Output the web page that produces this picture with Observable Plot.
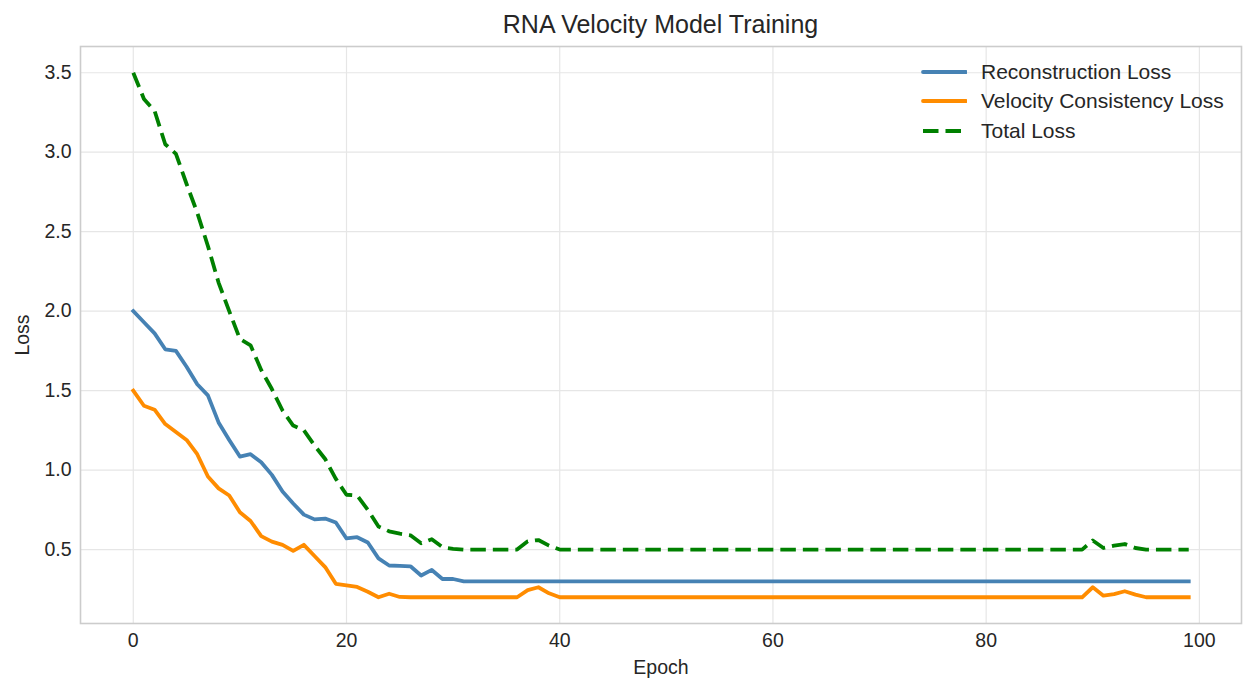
<!DOCTYPE html>
<html>
<head>
<meta charset="utf-8">
<script src="https://cdn.jsdelivr.net/npm/d3@7"></script>
<script src="https://cdn.jsdelivr.net/npm/@observablehq/plot@0.6"></script>
<style>
  html, body { margin: 0; padding: 0; background: #ffffff; }
  #wrap { position: relative; width: 1256px; height: 692px; font-family: "Liberation Sans", Arial, sans-serif; color: #262626; }
  #title { position: absolute; left: 80px; width: 1161px; top: 12px; text-align: center; font-size: 25px; line-height: 1; }
  #chart { position: absolute; left: 0; top: 40px; }
  #legend { position: absolute; left: 921px; top: 57px; }
  .row { display: flex; align-items: center; height: 29.5px; font-size: 21px; }
  .row svg { margin-right: 14px; }
</style>
</head>
<body>
<div id="wrap">
  <div id="title">RNA Velocity Model Training</div>
  <div id="chart"></div>
  <div id="legend"></div>
</div>
<script>
const seriesNames = ["Reconstruction Loss", "Velocity Consistency Loss", "Total Loss"];
const seriesColors = ["#4682b4", "#ff8c00", "#008000"];
const epochs = d3.range(0, 100);

const reconstruction = [
  2.00, 1.93, 1.86, 1.76, 1.75, 1.65, 1.54, 1.47, 1.30, 1.19,
  1.085, 1.10, 1.05, 0.97, 0.865, 0.79, 0.72, 0.69, 0.695, 0.67,
  0.57, 0.578, 0.545, 0.445, 0.40, 0.398, 0.395, 0.337, 0.372, 0.315,
  0.315, 0.30, 0.30, 0.30, 0.30, 0.30, 0.30, 0.30, 0.30, 0.30,
  0.30, 0.30, 0.30, 0.30, 0.30, 0.30, 0.30, 0.30, 0.30, 0.30,
  0.30, 0.30, 0.30, 0.30, 0.30, 0.30, 0.30, 0.30, 0.30, 0.30,
  0.30, 0.30, 0.30, 0.30, 0.30, 0.30, 0.30, 0.30, 0.30, 0.30,
  0.30, 0.30, 0.30, 0.30, 0.30, 0.30, 0.30, 0.30, 0.30, 0.30,
  0.30, 0.30, 0.30, 0.30, 0.30, 0.30, 0.30, 0.30, 0.30, 0.30,
  0.30, 0.30, 0.30, 0.30, 0.30, 0.30, 0.30, 0.30, 0.30, 0.30
];

const velocity = [
  1.50, 1.405, 1.38, 1.29, 1.24, 1.19, 1.10, 0.96, 0.885, 0.84,
  0.735, 0.68, 0.585, 0.55, 0.53, 0.492, 0.53, 0.46, 0.39, 0.285,
  0.275, 0.265, 0.235, 0.20, 0.222, 0.202, 0.20, 0.20, 0.20, 0.20,
  0.20, 0.20, 0.20, 0.20, 0.20, 0.20, 0.20, 0.245, 0.263, 0.225,
  0.20, 0.20, 0.20, 0.20, 0.20, 0.20, 0.20, 0.20, 0.20, 0.20,
  0.20, 0.20, 0.20, 0.20, 0.20, 0.20, 0.20, 0.20, 0.20, 0.20,
  0.20, 0.20, 0.20, 0.20, 0.20, 0.20, 0.20, 0.20, 0.20, 0.20,
  0.20, 0.20, 0.20, 0.20, 0.20, 0.20, 0.20, 0.20, 0.20, 0.20,
  0.20, 0.20, 0.20, 0.20, 0.20, 0.20, 0.20, 0.20, 0.20, 0.20,
  0.263, 0.21, 0.22, 0.238, 0.217, 0.20, 0.20, 0.20, 0.20, 0.20
];

const total = [
  3.50, 3.335, 3.26, 3.05, 2.99, 2.80, 2.62, 2.41, 2.18, 2.00,
  1.825, 1.785, 1.63, 1.51, 1.375, 1.28, 1.25, 1.155, 1.07, 0.945,
  0.845, 0.84, 0.75, 0.645, 0.615, 0.60, 0.59, 0.54, 0.565, 0.515,
  0.505, 0.50, 0.50, 0.50, 0.50, 0.50, 0.50, 0.552, 0.56, 0.525,
  0.50, 0.50, 0.50, 0.50, 0.50, 0.50, 0.50, 0.50, 0.50, 0.50,
  0.50, 0.50, 0.50, 0.50, 0.50, 0.50, 0.50, 0.50, 0.50, 0.50,
  0.50, 0.50, 0.50, 0.50, 0.50, 0.50, 0.50, 0.50, 0.50, 0.50,
  0.50, 0.50, 0.50, 0.50, 0.50, 0.50, 0.50, 0.50, 0.50, 0.50,
  0.50, 0.50, 0.50, 0.50, 0.50, 0.50, 0.50, 0.50, 0.50, 0.50,
  0.557, 0.51, 0.525, 0.535, 0.51, 0.50, 0.50, 0.50, 0.50, 0.50
];

const xTicks = [0, 20, 40, 60, 80, 100];
const yTicks = [0.5, 1.0, 1.5, 2.0, 2.5, 3.0, 3.5];

const recData = epochs.map((e, i) => ({epoch: e, loss: reconstruction[i]}));
const velData = epochs.map((e, i) => ({epoch: e, loss: velocity[i]}));
const totData = epochs.map((e, i) => ({epoch: e, loss: total[i]}));

const LW = 3.8;
const DASH = "15.5,7";

const chart = Plot.plot({
  width: 1256,
  height: 646,
  marginLeft: 80,
  marginRight: 15,
  marginTop: 6,
  marginBottom: 63,
  style: { fontFamily: "Liberation Sans, Arial, sans-serif", fontSize: "19.5px", color: "#262626", background: "transparent" },
  x: { domain: [-4.95, 103.95] },
  y: { domain: [0.035, 3.665] },
  marks: [
    Plot.gridX(xTicks, { stroke: "#e6e6e6", strokeOpacity: 1, strokeWidth: 1.2 }),
    Plot.gridY(yTicks, { stroke: "#e6e6e6", strokeOpacity: 1, strokeWidth: 1.2 }),
    Plot.frame({ stroke: "#cccccc", strokeWidth: 1.6 }),
    Plot.axisX(xTicks, { tickSize: 0, tickPadding: 10, label: "Epoch", labelAnchor: "center", labelArrow: "none", labelOffset: 50, fontSize: "19.5px" }),
    Plot.axisY(yTicks, { tickSize: 0, tickPadding: 9, tickFormat: d3.format(".1f"), label: "Loss", labelAnchor: "center", labelArrow: "none", labelOffset: 65, fontSize: "19.5px" }),
    Plot.line(recData, { x: "epoch", y: "loss", stroke: seriesColors[0], strokeWidth: LW, strokeLinejoin: "round", strokeLinecap: "square" }),
    Plot.line(velData, { x: "epoch", y: "loss", stroke: seriesColors[1], strokeWidth: LW, strokeLinejoin: "round", strokeLinecap: "square" }),
    Plot.line(totData, { x: "epoch", y: "loss", stroke: seriesColors[2], strokeWidth: LW, strokeLinejoin: "round", strokeLinecap: "butt", strokeDasharray: DASH })
  ]
});
document.getElementById("chart").appendChild(chart);

const legend = document.getElementById("legend");
seriesNames.forEach((name, i) => {
  const row = document.createElement("div");
  row.className = "row";
  const dash = i === 2 ? ` stroke-dasharray="${DASH}"` : '';
  const cap = i === 2 ? 'butt' : 'round';
  row.innerHTML = `<svg width="46" height="8"><line x1="2" y1="4" x2="45" y2="4" stroke="${seriesColors[i]}" stroke-width="${LW}" stroke-linecap="${cap}"${dash}/></svg><span>${name}</span>`;
  legend.appendChild(row);
});
</script>
</body>
</html>
